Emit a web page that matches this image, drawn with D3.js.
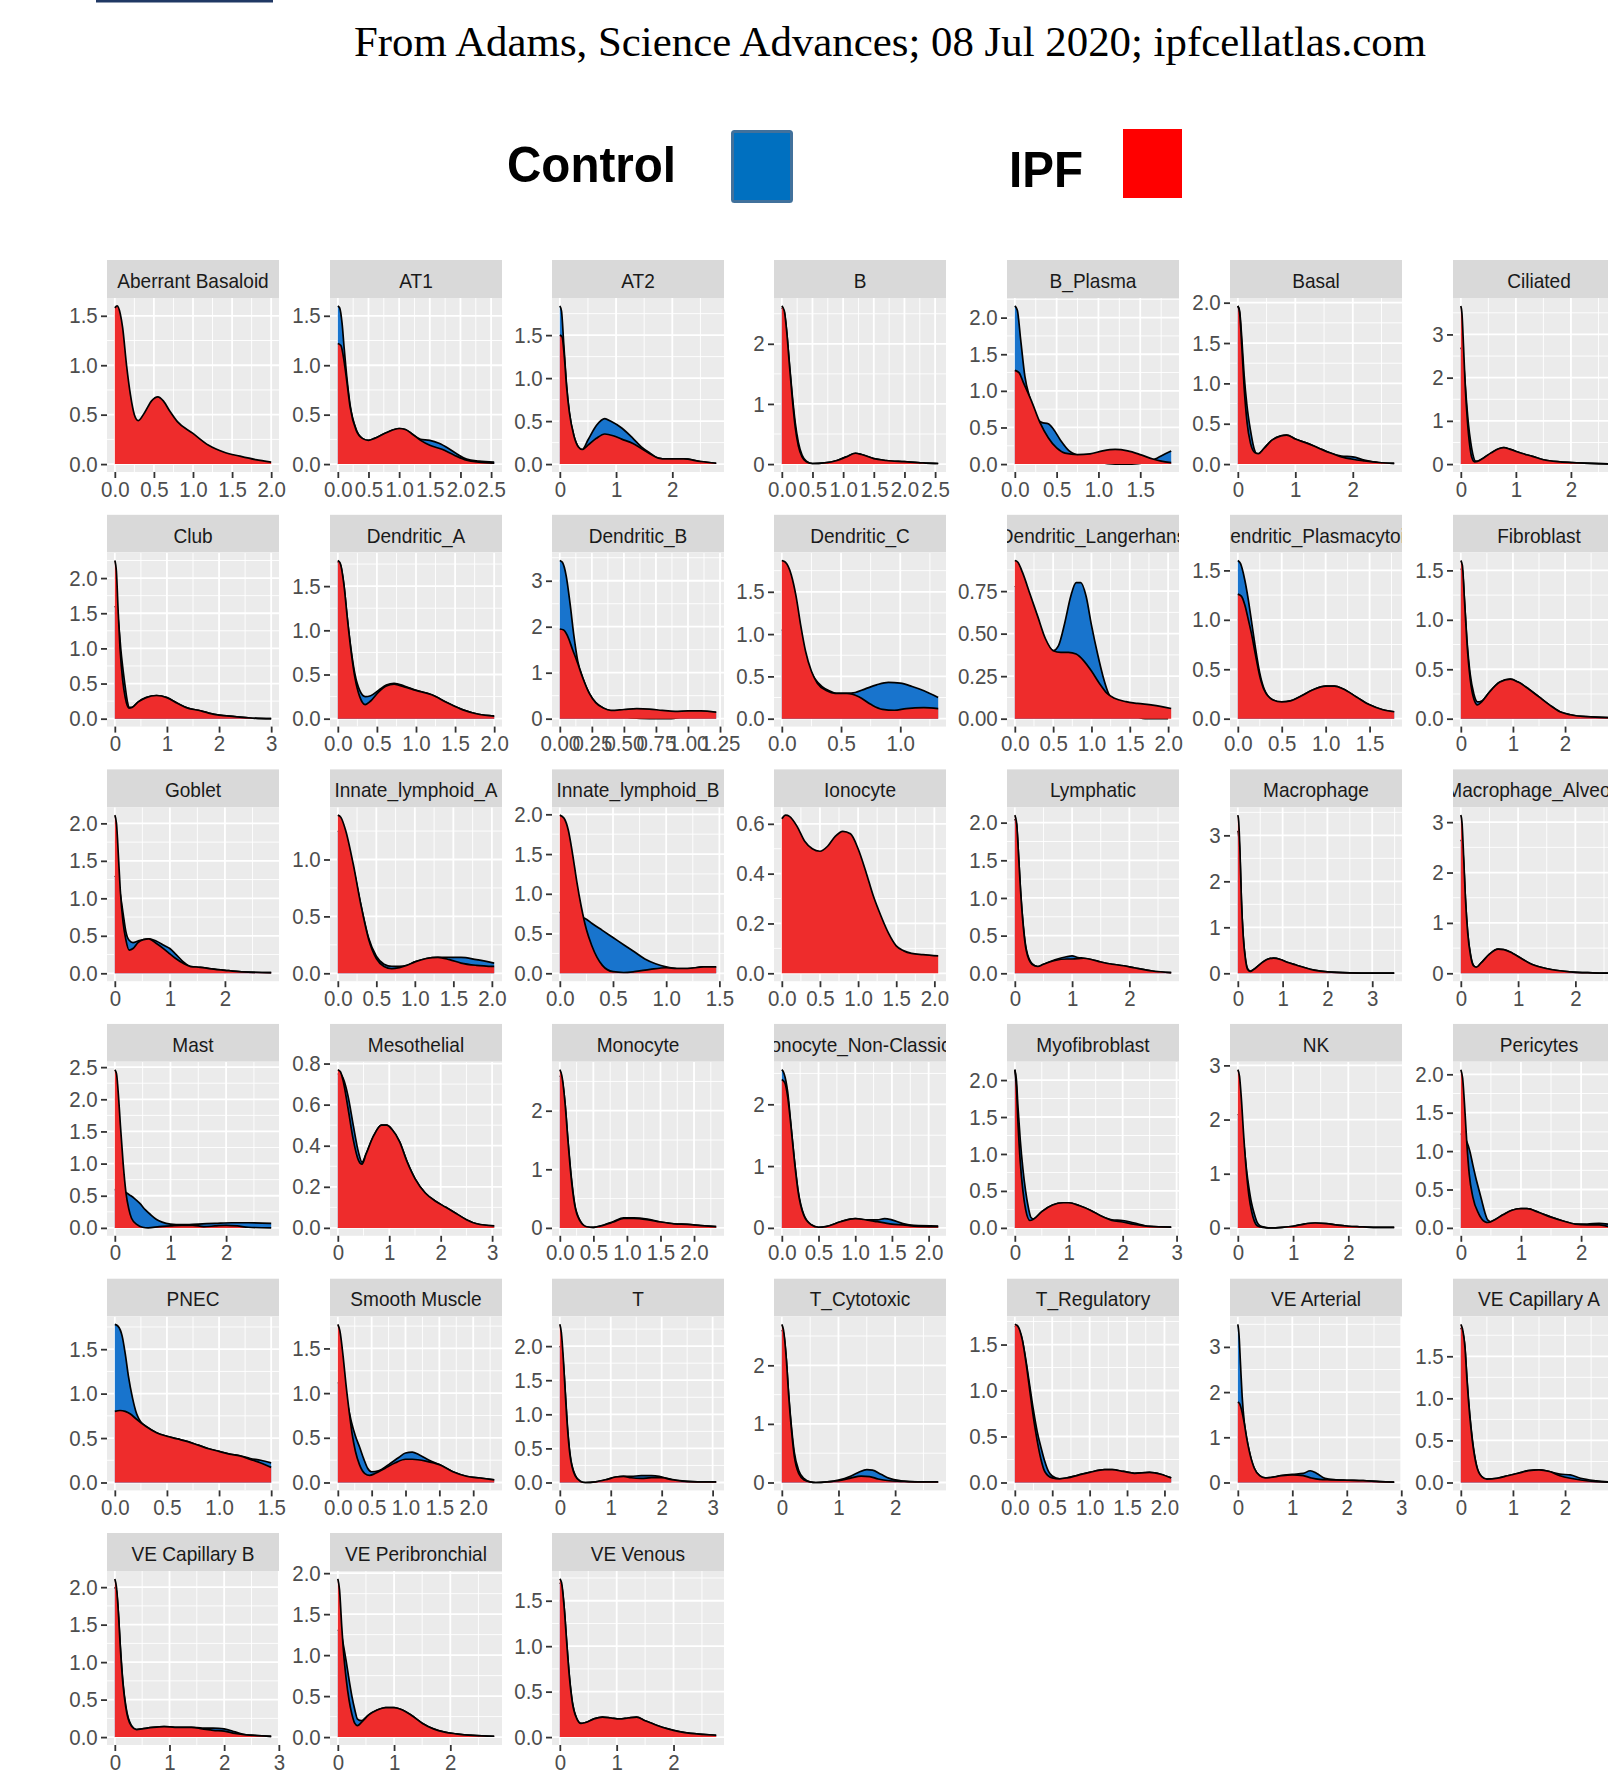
<!DOCTYPE html>
<html><head><meta charset="utf-8">
<script src="https://cdn.jsdelivr.net/npm/d3@7"></script>
<style>body{margin:0;background:#fff}svg{display:block}</style>
</head><body>
<svg id="chart" width="1608" height="1770"></svg>
<script>
const title = "From Adams, Science Advances; 08 Jul 2020; ipfcellatlas.com";
const groups = ["Control", "IPF"];
const groupColors = ["#1874CD", "#EE2C2C"];
const legendColors = ["#0070C0", "#FF0000"];

const cellTypes = ["Aberrant Basaloid","AT1","AT2","B","B_Plasma","Basal","Ciliated",
 "Club","Dendritic_A","Dendritic_B","Dendritic_C","Dendritic_Langerhans","Dendritic_Plasmacytoid","Fibroblast",
 "Goblet","Innate_lymphoid_A","Innate_lymphoid_B","Ionocyte","Lymphatic","Macrophage","Macrophage_Alveolar",
 "Mast","Mesothelial","Monocyte","Monocyte_Non-Classical","Myofibroblast","NK","Pericytes",
 "PNEC","Smooth Muscle","T","T_Cytotoxic","T_Regulatory","VE Arterial","VE Capillary A",
 "VE Capillary B","VE Peribronchial","VE Venous"];

const xTickValues = [
 [0,0.5,1,1.5,2],[0,0.5,1,1.5,2,2.5],[0,1,2],[0,0.5,1,1.5,2,2.5],[0,0.5,1,1.5],[0,1,2],[0,1,2],
 [0,1,2,3],[0,0.5,1,1.5,2],[0,0.25,0.5,0.75,1,1.25],[0,0.5,1],[0,0.5,1,1.5,2],[0,0.5,1,1.5],[0,1,2,3],
 [0,1,2],[0,0.5,1,1.5,2],[0,0.5,1,1.5],[0,0.5,1,1.5,2],[0,1,2],[0,1,2,3],[0,1,2],
 [0,1,2],[0,1,2,3],[0,0.5,1,1.5,2],[0,0.5,1,1.5,2],[0,1,2,3],[0,1,2],[0,1,2],
 [0,0.5,1,1.5],[0,0.5,1,1.5,2],[0,1,2,3],[0,1,2],[0,0.5,1,1.5,2],[0,1,2,3],[0,1,2,3],
 [0,1,2,3],[0,1,2],[0,1,2]];

const yTickValues = [
 [0,0.5,1,1.5],[0,0.5,1,1.5],[0,0.5,1,1.5],[0,1,2],[0,0.5,1,1.5,2],[0,0.5,1,1.5,2],[0,1,2,3],
 [0,0.5,1,1.5,2],[0,0.5,1,1.5],[0,1,2,3],[0,0.5,1,1.5],[0,0.25,0.5,0.75],[0,0.5,1,1.5],[0,0.5,1,1.5],
 [0,0.5,1,1.5,2],[0,0.5,1],[0,0.5,1,1.5,2],[0,0.2,0.4,0.6],[0,0.5,1,1.5,2],[0,1,2,3],[0,1,2,3],
 [0,0.5,1,1.5,2,2.5],[0,0.2,0.4,0.6,0.8],[0,1,2],[0,1,2],[0,0.5,1,1.5,2],[0,1,2,3],[0,0.5,1,1.5,2],
 [0,0.5,1,1.5],[0,0.5,1,1.5],[0,0.5,1,1.5,2],[0,1,2],[0,0.5,1,1.5],[0,1,2,3],[0,0.5,1,1.5],
 [0,0.5,1,1.5,2],[0,0.5,1,1.5,2],[0,0.5,1,1.5]];

// density curves: [expression, density]
const ipfCurves = [
 [[0,1.58],[0.03,1.6],[0.07,1.52],[0.1,1.38],[0.15,1.0],[0.2,0.7],[0.25,0.5],[0.3,0.44],[0.38,0.52],[0.47,0.64],[0.55,0.68],[0.62,0.64],[0.7,0.54],[0.8,0.43],[1.0,0.31],[1.2,0.19],[1.4,0.12],[1.6,0.08],[1.8,0.045],[2.0,0.02]],
 [[0,1.22],[0.05,1.2],[0.1,1.05],[0.15,0.82],[0.2,0.58],[0.3,0.34],[0.4,0.26],[0.5,0.24],[0.6,0.26],[0.8,0.32],[1.0,0.36],[1.1,0.35],[1.2,0.31],[1.35,0.24],[1.5,0.19],[1.7,0.15],[1.9,0.09],[2.1,0.04],[2.3,0.02],[2.55,0.01]],
 [[0,1.5],[0.04,1.48],[0.08,1.25],[0.12,0.9],[0.17,0.6],[0.25,0.33],[0.33,0.2],[0.4,0.17],[0.5,0.22],[0.65,0.3],[0.8,0.35],[0.95,0.33],[1.1,0.29],[1.3,0.24],[1.45,0.18],[1.6,0.12],[1.75,0.07],[1.9,0.06],[2.2,0.06],[2.5,0.03],[2.78,0.01]],
 [[0,2.63],[0.04,2.55],[0.08,2.2],[0.12,1.7],[0.17,1.1],[0.22,0.6],[0.27,0.3],[0.33,0.12],[0.4,0.04],[0.5,0.01],[0.7,0.02],[0.9,0.06],[1.05,0.12],[1.2,0.18],[1.3,0.16],[1.5,0.09],[1.7,0.06],[2.0,0.04],[2.3,0.02],[2.55,0.01]],
 [[0,1.28],[0.05,1.25],[0.1,1.12],[0.2,0.86],[0.3,0.57],[0.4,0.36],[0.5,0.22],[0.6,0.15],[0.75,0.13],[0.9,0.14],[1.05,0.18],[1.2,0.2],[1.35,0.18],[1.5,0.13],[1.65,0.07],[1.75,0.04],[1.87,0.02]],
 [[0,1.96],[0.03,1.88],[0.07,1.45],[0.11,0.95],[0.16,0.52],[0.22,0.26],[0.3,0.14],[0.36,0.13],[0.45,0.19],[0.6,0.3],[0.75,0.35],[0.85,0.36],[1.0,0.31],[1.2,0.26],[1.4,0.2],[1.6,0.14],[1.8,0.09],[2.0,0.06],[2.2,0.04],[2.45,0.02],[2.72,0.01]],
 [[0,3.66],[0.02,3.5],[0.05,2.7],[0.08,1.8],[0.12,1.0],[0.16,0.45],[0.2,0.15],[0.25,0.05],[0.3,0.06],[0.4,0.13],[0.55,0.26],[0.7,0.36],[0.78,0.38],[0.9,0.34],[1.1,0.25],[1.3,0.18],[1.5,0.1],[1.8,0.05],[2.1,0.03],[2.5,0.01],[2.84,0.0]],
 [[0,2.25],[0.03,2.1],[0.06,1.6],[0.1,1.0],[0.15,0.55],[0.2,0.3],[0.27,0.15],[0.33,0.16],[0.45,0.24],[0.6,0.3],[0.8,0.33],[1.0,0.3],[1.2,0.22],[1.4,0.15],[1.6,0.12],[1.8,0.08],[2.0,0.05],[2.3,0.03],[2.6,0.01],[3.0,0.0]],
 [[0,1.79],[0.03,1.76],[0.08,1.5],[0.12,1.15],[0.17,0.76],[0.22,0.46],[0.28,0.25],[0.35,0.16],[0.42,0.2],[0.52,0.3],[0.62,0.37],[0.72,0.39],[0.85,0.36],[1.0,0.32],[1.2,0.27],[1.4,0.18],[1.6,0.1],[1.8,0.05],[2.0,0.03]],
 [[0,1.95],[0.03,1.93],[0.06,1.8],[0.1,1.5],[0.14,1.2],[0.18,0.88],[0.23,0.55],[0.28,0.35],[0.34,0.23],[0.4,0.18],[0.5,0.2],[0.6,0.22],[0.7,0.21],[0.8,0.18],[0.9,0.16],[1.0,0.17],[1.1,0.17],[1.22,0.14]],
 [[0,1.87],[0.03,1.85],[0.08,1.7],[0.12,1.45],[0.16,1.1],[0.2,0.8],[0.25,0.56],[0.3,0.42],[0.38,0.33],[0.45,0.3],[0.55,0.3],[0.65,0.26],[0.75,0.17],[0.85,0.11],[0.95,0.1],[1.05,0.12],[1.2,0.13],[1.32,0.12]],
 [[0,0.93],[0.04,0.92],[0.1,0.86],[0.2,0.73],[0.3,0.6],[0.4,0.47],[0.5,0.4],[0.6,0.39],[0.7,0.39],[0.8,0.38],[0.9,0.34],[1.0,0.28],[1.1,0.21],[1.2,0.15],[1.3,0.12],[1.45,0.1],[1.6,0.09],[1.8,0.08],[2.04,0.06]],
 [[0,1.26],[0.04,1.24],[0.08,1.15],[0.12,1.0],[0.16,0.84],[0.2,0.65],[0.25,0.43],[0.3,0.29],[0.4,0.19],[0.5,0.17],[0.6,0.18],[0.7,0.22],[0.85,0.29],[1.0,0.33],[1.1,0.33],[1.2,0.3],[1.35,0.22],[1.5,0.14],[1.65,0.09],[1.78,0.07]],
 [[0,1.6],[0.03,1.55],[0.07,1.2],[0.12,0.75],[0.18,0.4],[0.25,0.2],[0.32,0.14],[0.4,0.17],[0.55,0.27],[0.75,0.37],[0.95,0.4],[1.1,0.37],[1.3,0.3],[1.5,0.22],[1.7,0.14],[1.9,0.07],[2.1,0.04],[2.4,0.02],[3.0,0.01]],
 [[0,2.11],[0.03,2.0],[0.07,1.5],[0.1,1.1],[0.15,0.68],[0.2,0.45],[0.26,0.31],[0.33,0.33],[0.42,0.41],[0.52,0.45],[0.62,0.46],[0.75,0.4],[0.9,0.32],[1.0,0.26],[1.1,0.2],[1.25,0.13],[1.38,0.09],[1.55,0.08],[1.75,0.06],[2.0,0.04],[2.3,0.02],[2.84,0.01]],
 [[0,1.39],[0.04,1.37],[0.1,1.26],[0.2,0.96],[0.3,0.6],[0.4,0.3],[0.5,0.13],[0.6,0.06],[0.7,0.04],[0.8,0.05],[0.9,0.07],[1.0,0.1],[1.15,0.13],[1.3,0.14],[1.45,0.12],[1.6,0.09],[1.8,0.07],[2.03,0.06]],
 [[0,1.99],[0.04,1.95],[0.08,1.8],[0.12,1.5],[0.16,1.15],[0.2,0.85],[0.25,0.55],[0.3,0.35],[0.35,0.2],[0.4,0.1],[0.5,0.02],[0.6,0.01],[0.7,0.02],[0.85,0.05],[1.0,0.07],[1.1,0.06],[1.2,0.06],[1.35,0.08],[1.47,0.08]],
 [[0,0.62],[0.05,0.635],[0.1,0.63],[0.2,0.59],[0.3,0.53],[0.4,0.5],[0.5,0.49],[0.6,0.51],[0.7,0.55],[0.8,0.57],[0.9,0.56],[1.0,0.5],[1.1,0.41],[1.2,0.31],[1.3,0.23],[1.4,0.16],[1.5,0.11],[1.6,0.09],[1.7,0.08],[1.85,0.075],[2.05,0.07]],
 [[0,2.1],[0.03,2.0],[0.07,1.5],[0.1,1.1],[0.15,0.6],[0.2,0.3],[0.3,0.12],[0.4,0.09],[0.5,0.12],[0.7,0.17],[0.9,0.19],[1.0,0.19],[1.2,0.2],[1.35,0.18],[1.5,0.15],[1.7,0.12],[1.9,0.1],[2.1,0.07],[2.4,0.03],[2.73,0.01]],
 [[0,3.44],[0.02,3.3],[0.05,2.6],[0.08,1.6],[0.12,0.8],[0.17,0.3],[0.22,0.08],[0.28,0.04],[0.35,0.08],[0.5,0.2],[0.65,0.3],[0.8,0.33],[0.95,0.3],[1.1,0.24],[1.3,0.18],[1.5,0.12],[1.7,0.07],[2.0,0.03],[2.5,0.01],[3.0,0.005],[3.49,0.005]],
 [[0,3.14],[0.02,3.0],[0.05,2.3],[0.08,1.5],[0.12,0.8],[0.17,0.35],[0.22,0.15],[0.27,0.12],[0.35,0.2],[0.5,0.38],[0.65,0.48],[0.75,0.47],[0.9,0.4],[1.05,0.3],[1.2,0.2],[1.4,0.12],[1.6,0.07],[1.9,0.03],[2.3,0.01],[2.73,0.0]],
 [[0,2.46],[0.03,2.4],[0.07,2.0],[0.1,1.6],[0.15,1.0],[0.2,0.55],[0.25,0.3],[0.3,0.15],[0.4,0.05],[0.5,0.01],[0.6,0.0],[0.8,0.02],[1.0,0.03],[1.2,0.04],[1.4,0.04],[1.6,0.02],[1.8,0.03],[2.0,0.04],[2.2,0.03],[2.4,0.01],[2.81,0.0]],
 [[0,0.77],[0.05,0.76],[0.1,0.72],[0.2,0.58],[0.3,0.43],[0.4,0.33],[0.47,0.31],[0.55,0.36],[0.7,0.45],[0.85,0.5],[0.95,0.5],[1.05,0.48],[1.2,0.42],[1.35,0.32],[1.5,0.24],[1.7,0.17],[1.9,0.13],[2.1,0.1],[2.3,0.07],[2.5,0.04],[2.7,0.02],[3.04,0.01]],
 [[0,2.7],[0.03,2.6],[0.08,2.1],[0.12,1.5],[0.17,0.85],[0.22,0.4],[0.3,0.12],[0.4,0.02],[0.5,0.01],[0.6,0.03],[0.8,0.1],[0.95,0.16],[1.1,0.16],[1.3,0.14],[1.5,0.1],[1.7,0.07],[1.9,0.06],[2.1,0.04],[2.33,0.02]],
 [[0,2.4],[0.04,2.35],[0.08,2.12],[0.12,1.7],[0.17,1.1],[0.22,0.6],[0.3,0.2],[0.4,0.05],[0.5,0.01],[0.6,0.02],[0.8,0.1],[1.0,0.15],[1.15,0.13],[1.3,0.1],[1.4,0.08],[1.5,0.06],[1.65,0.05],[1.8,0.03],[2.13,0.02]],
 [[0,2.14],[0.03,1.9],[0.06,1.4],[0.1,0.9],[0.15,0.5],[0.2,0.25],[0.28,0.1],[0.35,0.12],[0.5,0.22],[0.7,0.31],[0.9,0.34],[1.0,0.34],[1.2,0.3],[1.4,0.24],[1.6,0.16],[1.8,0.1],[2.0,0.08],[2.2,0.05],[2.5,0.02],[2.9,0.01]],
 [[0,2.92],[0.03,2.8],[0.07,2.3],[0.1,1.8],[0.15,1.1],[0.2,0.6],[0.25,0.3],[0.3,0.12],[0.35,0.04],[0.45,0.01],[0.6,0.0],[0.8,0.01],[1.0,0.03],[1.2,0.07],[1.4,0.09],[1.6,0.08],[1.8,0.05],[2.0,0.03],[2.2,0.02],[2.5,0.01],[2.83,0.01]],
 [[0,2.06],[0.03,1.95],[0.07,1.5],[0.1,1.1],[0.14,0.7],[0.2,0.4],[0.3,0.18],[0.4,0.08],[0.45,0.07],[0.55,0.1],[0.7,0.17],[0.85,0.23],[1.0,0.25],[1.1,0.25],[1.3,0.2],[1.5,0.14],[1.7,0.09],[1.9,0.05],[2.1,0.04],[2.3,0.04],[2.45,0.02],[2.6,0.01]],
 [[0,0.8],[0.05,0.81],[0.1,0.8],[0.15,0.77],[0.2,0.72],[0.3,0.63],[0.4,0.56],[0.5,0.52],[0.6,0.49],[0.7,0.46],[0.8,0.42],[0.9,0.38],[1.0,0.35],[1.1,0.32],[1.2,0.3],[1.3,0.26],[1.4,0.22],[1.5,0.17]],
 [[0,1.77],[0.03,1.7],[0.08,1.4],[0.12,1.1],[0.17,0.78],[0.21,0.55],[0.26,0.35],[0.32,0.2],[0.4,0.1],[0.47,0.08],[0.55,0.1],[0.7,0.16],[0.85,0.22],[1.0,0.26],[1.1,0.26],[1.3,0.24],[1.5,0.2],[1.7,0.12],[1.9,0.07],[2.1,0.05],[2.31,0.03]],
 [[0,2.32],[0.03,2.2],[0.07,1.8],[0.1,1.4],[0.15,0.8],[0.2,0.4],[0.3,0.1],[0.4,0.02],[0.5,0.0],[0.7,0.01],[0.9,0.04],[1.1,0.08],[1.25,0.09],[1.4,0.07],[1.6,0.06],[1.8,0.07],[2.0,0.07],[2.2,0.04],[2.4,0.02],[2.7,0.01],[3.07,0.01]],
 [[0,2.7],[0.03,2.6],[0.08,2.1],[0.12,1.5],[0.17,0.9],[0.22,0.45],[0.3,0.15],[0.4,0.04],[0.5,0.01],[0.6,0.0],[0.8,0.01],[1.0,0.03],[1.2,0.07],[1.4,0.11],[1.55,0.1],[1.7,0.06],[1.9,0.03],[2.1,0.02],[2.4,0.01],[2.76,0.01]],
 [[0,1.72],[0.04,1.7],[0.1,1.55],[0.15,1.3],[0.2,1.0],[0.25,0.7],[0.3,0.45],[0.35,0.25],[0.4,0.12],[0.5,0.05],[0.6,0.04],[0.7,0.05],[0.85,0.08],[1.0,0.11],[1.2,0.14],[1.3,0.14],[1.45,0.12],[1.6,0.1],[1.8,0.11],[1.95,0.09],[2.09,0.05]],
 [[0,1.78],[0.03,1.75],[0.08,1.55],[0.12,1.3],[0.16,1.0],[0.2,0.75],[0.25,0.5],[0.3,0.32],[0.4,0.15],[0.5,0.1],[0.6,0.11],[0.8,0.15],[1.0,0.17],[1.2,0.15],[1.35,0.1],[1.5,0.07],[1.7,0.06],[2.0,0.05],[2.3,0.04],[2.6,0.02],[2.87,0.01]],
 [[0,1.88],[0.03,1.83],[0.08,1.6],[0.12,1.2],[0.17,0.8],[0.22,0.5],[0.3,0.2],[0.4,0.07],[0.5,0.04],[0.7,0.05],[0.9,0.08],[1.1,0.11],[1.3,0.14],[1.5,0.15],[1.7,0.13],[1.9,0.08],[2.1,0.05],[2.3,0.03],[2.6,0.01],[3.0,0.0]],
 [[0,2.11],[0.03,2.0],[0.07,1.6],[0.1,1.2],[0.15,0.7],[0.2,0.4],[0.3,0.15],[0.4,0.1],[0.5,0.11],[0.7,0.13],[0.9,0.14],[1.1,0.13],[1.4,0.13],[1.6,0.11],[1.8,0.09],[2.0,0.08],[2.2,0.05],[2.4,0.03],[2.6,0.02],[2.86,0.01]],
 [[0,1.93],[0.03,1.8],[0.07,1.35],[0.1,1.05],[0.15,0.7],[0.2,0.45],[0.25,0.28],[0.3,0.17],[0.35,0.14],[0.42,0.18],[0.55,0.27],[0.7,0.33],[0.85,0.36],[1.0,0.36],[1.15,0.33],[1.3,0.27],[1.5,0.17],[1.7,0.1],[1.9,0.06],[2.1,0.04],[2.4,0.02],[2.78,0.01]],
 [[0,1.74],[0.03,1.7],[0.08,1.4],[0.12,1.05],[0.17,0.65],[0.22,0.38],[0.3,0.2],[0.37,0.15],[0.45,0.16],[0.6,0.2],[0.75,0.22],[0.9,0.21],[1.05,0.2],[1.2,0.21],[1.35,0.22],[1.5,0.18],[1.7,0.13],[1.9,0.09],[2.1,0.06],[2.3,0.04],[2.5,0.03],[2.75,0.02]]
];

const controlCurves = [
 null,
 [[0,1.6],[0.03,1.58],[0.07,1.42],[0.1,1.2],[0.15,0.86],[0.2,0.6],[0.3,0.35],[0.4,0.26],[0.5,0.24],[0.6,0.26],[0.8,0.32],[1.0,0.36],[1.1,0.35],[1.2,0.31],[1.35,0.25],[1.5,0.24],[1.65,0.21],[1.8,0.16],[1.95,0.1],[2.1,0.05],[2.3,0.03],[2.55,0.02]],
 [[0,1.84],[0.03,1.78],[0.07,1.4],[0.12,0.92],[0.17,0.6],[0.25,0.33],[0.33,0.2],[0.4,0.17],[0.5,0.28],[0.65,0.45],[0.8,0.53],[0.9,0.5],[1.1,0.42],[1.3,0.3],[1.45,0.2],[1.6,0.13],[1.75,0.07],[1.9,0.06],[2.2,0.06],[2.5,0.03],[2.78,0.01]],
 [[0,2.6],[0.04,2.53],[0.08,2.2],[0.12,1.72],[0.17,1.15],[0.22,0.68],[0.27,0.36],[0.33,0.15],[0.4,0.05],[0.5,0.01],[0.7,0.02],[0.9,0.06],[1.05,0.12],[1.2,0.18],[1.3,0.16],[1.5,0.09],[1.7,0.06],[2.0,0.04],[2.3,0.02],[2.55,0.01]],
 [[0,2.16],[0.03,2.1],[0.07,1.7],[0.12,1.2],[0.18,0.9],[0.25,0.66],[0.32,0.57],[0.4,0.55],[0.46,0.48],[0.55,0.32],[0.65,0.18],[0.75,0.12],[0.85,0.08],[1.0,0.03],[1.2,0.0],[1.4,0.0],[1.55,0.02],[1.7,0.08],[1.8,0.14],[1.87,0.18]],
 [[0,1.96],[0.03,1.9],[0.07,1.55],[0.11,1.1],[0.16,0.72],[0.22,0.42],[0.28,0.2],[0.34,0.12],[0.4,0.15],[0.45,0.19],[0.6,0.3],[0.75,0.35],[0.85,0.36],[1.0,0.31],[1.2,0.26],[1.4,0.2],[1.6,0.14],[1.8,0.1],[2.0,0.09],[2.2,0.05],[2.45,0.02],[2.72,0.01]],
 [[0,2.7],[0.03,2.6],[0.06,2.2],[0.1,1.5],[0.14,0.9],[0.18,0.5],[0.22,0.22],[0.27,0.07],[0.32,0.07],[0.4,0.13],[0.55,0.26],[0.7,0.36],[0.78,0.38],[0.9,0.34],[1.1,0.25],[1.3,0.18],[1.5,0.1],[1.8,0.05],[2.1,0.03],[2.5,0.01],[2.84,0.0]],
 [[0,1.6],[0.04,1.55],[0.08,1.3],[0.12,0.95],[0.16,0.68],[0.2,0.45],[0.24,0.25],[0.28,0.16],[0.33,0.16],[0.45,0.24],[0.6,0.3],[0.8,0.33],[1.0,0.3],[1.2,0.22],[1.4,0.15],[1.6,0.12],[1.8,0.08],[2.0,0.05],[2.3,0.03],[2.6,0.01],[3.0,0.0]],
 [[0,1.78],[0.03,1.75],[0.08,1.5],[0.12,1.15],[0.17,0.78],[0.22,0.5],[0.28,0.32],[0.35,0.25],[0.42,0.26],[0.52,0.32],[0.62,0.38],[0.72,0.4],[0.85,0.37],[1.0,0.32],[1.2,0.27],[1.4,0.18],[1.6,0.1],[1.8,0.05],[2.0,0.03]],
 [[0,3.44],[0.02,3.4],[0.05,3.1],[0.08,2.5],[0.11,1.8],[0.14,1.25],[0.18,0.88],[0.23,0.55],[0.28,0.35],[0.34,0.23],[0.4,0.16],[0.46,0.08],[0.55,0.02],[0.7,0.0],[0.85,0.0],[0.95,0.04],[1.05,0.12],[1.12,0.15],[1.22,0.14]],
 [[0,1.05],[0.05,1.03],[0.1,0.95],[0.16,0.8],[0.22,0.62],[0.28,0.47],[0.34,0.38],[0.4,0.33],[0.46,0.3],[0.55,0.3],[0.62,0.31],[0.7,0.35],[0.8,0.4],[0.9,0.43],[1.0,0.42],[1.1,0.38],[1.2,0.33],[1.32,0.25]],
 [[0,0.78],[0.1,0.75],[0.2,0.68],[0.3,0.57],[0.4,0.46],[0.5,0.4],[0.57,0.43],[0.65,0.56],[0.73,0.72],[0.8,0.8],[0.86,0.8],[0.93,0.72],[1.0,0.55],[1.08,0.38],[1.15,0.25],[1.22,0.15],[1.35,0.07],[1.5,0.03],[1.7,0.0],[2.0,0.0]],
 [[0,1.6],[0.03,1.57],[0.08,1.4],[0.12,1.2],[0.16,0.96],[0.2,0.72],[0.25,0.46],[0.3,0.3],[0.4,0.19],[0.5,0.17],[0.6,0.18],[0.7,0.22],[0.85,0.29],[1.0,0.33],[1.1,0.33],[1.2,0.3],[1.35,0.22],[1.5,0.14],[1.65,0.09],[1.78,0.07]],
 [[0,1.52],[0.03,1.5],[0.07,1.2],[0.12,0.78],[0.18,0.45],[0.25,0.25],[0.32,0.17],[0.4,0.18],[0.55,0.27],[0.75,0.37],[0.95,0.4],[1.1,0.37],[1.3,0.3],[1.5,0.22],[1.7,0.14],[1.9,0.07],[2.1,0.04],[2.4,0.02],[3.0,0.01]],
 [[0,1.3],[0.05,1.25],[0.1,1.05],[0.15,0.8],[0.2,0.56],[0.26,0.44],[0.33,0.41],[0.42,0.43],[0.52,0.45],[0.62,0.46],[0.75,0.43],[0.9,0.37],[1.0,0.33],[1.1,0.26],[1.25,0.15],[1.38,0.09],[1.55,0.08],[1.75,0.06],[2.0,0.04],[2.3,0.02],[2.84,0.01]],
 [[0,1.25],[0.05,1.23],[0.1,1.17],[0.2,0.93],[0.3,0.6],[0.4,0.31],[0.5,0.15],[0.6,0.08],[0.7,0.06],[0.8,0.06],[0.9,0.07],[1.0,0.1],[1.15,0.13],[1.3,0.14],[1.45,0.14],[1.6,0.14],[1.8,0.12],[2.03,0.09]],
 [[0,0.77],[0.1,0.75],[0.2,0.71],[0.25,0.68],[0.3,0.63],[0.4,0.54],[0.5,0.45],[0.6,0.36],[0.7,0.27],[0.8,0.18],[0.9,0.12],[1.0,0.08],[1.1,0.06],[1.2,0.06],[1.35,0.08],[1.47,0.08]],
 null,
 [[0,2.05],[0.03,1.98],[0.07,1.5],[0.1,1.1],[0.15,0.62],[0.2,0.32],[0.3,0.13],[0.4,0.09],[0.5,0.12],[0.7,0.18],[0.9,0.22],[1.0,0.23],[1.1,0.21],[1.2,0.2],[1.35,0.18],[1.5,0.15],[1.7,0.12],[1.9,0.1],[2.1,0.07],[2.4,0.03],[2.73,0.01]],
 [[0,3.1],[0.02,3.0],[0.05,2.5],[0.08,1.6],[0.12,0.82],[0.17,0.32],[0.22,0.1],[0.28,0.05],[0.35,0.08],[0.5,0.2],[0.65,0.3],[0.8,0.33],[0.95,0.3],[1.1,0.24],[1.3,0.18],[1.5,0.12],[1.7,0.07],[2.0,0.03],[2.5,0.01],[3.0,0.005],[3.49,0.005]],
 [[0,2.65],[0.02,2.6],[0.05,2.2],[0.08,1.5],[0.12,0.82],[0.17,0.37],[0.22,0.16],[0.27,0.12],[0.35,0.2],[0.5,0.38],[0.65,0.48],[0.75,0.47],[0.9,0.4],[1.05,0.3],[1.2,0.2],[1.4,0.12],[1.6,0.07],[1.9,0.03],[2.3,0.01],[2.73,0.0]],
 [[0,0.6],[0.1,0.58],[0.2,0.55],[0.27,0.51],[0.35,0.46],[0.45,0.38],[0.55,0.28],[0.65,0.2],[0.75,0.13],[0.85,0.09],[1.0,0.06],[1.2,0.05],[1.5,0.06],[1.8,0.07],[2.1,0.08],[2.4,0.08],[2.81,0.07]],
 [[0,0.75],[0.05,0.75],[0.1,0.73],[0.2,0.64],[0.3,0.5],[0.4,0.37],[0.47,0.32],[0.55,0.36],[0.7,0.45],[0.85,0.5],[0.95,0.5],[1.05,0.48],[1.2,0.42],[1.35,0.32],[1.5,0.24],[1.7,0.17],[1.9,0.13],[2.1,0.1],[2.3,0.07],[2.5,0.04],[2.7,0.02],[3.04,0.01]],
 [[0,2.6],[0.03,2.55],[0.08,2.1],[0.12,1.52],[0.17,0.88],[0.22,0.42],[0.3,0.13],[0.4,0.02],[0.5,0.01],[0.6,0.03],[0.8,0.11],[0.95,0.17],[1.1,0.17],[1.3,0.15],[1.5,0.1],[1.7,0.07],[1.9,0.06],[2.1,0.04],[2.33,0.02]],
 [[0,2.56],[0.03,2.5],[0.08,2.2],[0.12,1.72],[0.17,1.12],[0.22,0.62],[0.3,0.21],[0.4,0.05],[0.5,0.01],[0.6,0.02],[0.8,0.1],[1.0,0.15],[1.15,0.13],[1.3,0.13],[1.4,0.15],[1.5,0.13],[1.65,0.07],[1.8,0.04],[2.13,0.03]],
 [[0,2.14],[0.03,2.0],[0.06,1.62],[0.1,1.2],[0.15,0.8],[0.2,0.5],[0.25,0.28],[0.3,0.14],[0.35,0.12],[0.5,0.22],[0.7,0.31],[0.9,0.34],[1.0,0.34],[1.2,0.3],[1.4,0.24],[1.6,0.16],[1.8,0.11],[2.0,0.1],[2.2,0.07],[2.5,0.02],[2.9,0.01]],
 [[0,2.1],[0.04,2.05],[0.08,1.8],[0.12,1.45],[0.16,1.05],[0.2,0.75],[0.25,0.45],[0.3,0.25],[0.35,0.1],[0.4,0.04],[0.5,0.01],[0.6,0.0],[0.8,0.01],[1.0,0.03],[1.2,0.07],[1.4,0.09],[1.6,0.08],[1.8,0.05],[2.0,0.03],[2.2,0.02],[2.5,0.01],[2.83,0.01]],
 [[0,1.23],[0.05,1.2],[0.1,1.12],[0.15,1.0],[0.2,0.82],[0.25,0.65],[0.3,0.5],[0.35,0.35],[0.4,0.2],[0.45,0.1],[0.5,0.08],[0.55,0.1],[0.7,0.17],[0.85,0.23],[1.0,0.25],[1.1,0.25],[1.3,0.2],[1.5,0.14],[1.7,0.09],[1.9,0.05],[2.1,0.05],[2.3,0.06],[2.45,0.05],[2.6,0.03]],
 [[0,1.78],[0.03,1.76],[0.07,1.65],[0.1,1.45],[0.13,1.2],[0.17,0.95],[0.21,0.77],[0.25,0.68],[0.3,0.63],[0.4,0.56],[0.5,0.52],[0.6,0.49],[0.7,0.46],[0.8,0.42],[0.9,0.38],[1.0,0.35],[1.1,0.32],[1.2,0.3],[1.3,0.27],[1.4,0.25],[1.5,0.22]],
 [[0,1.12],[0.05,1.1],[0.1,1.0],[0.15,0.85],[0.2,0.68],[0.26,0.52],[0.32,0.4],[0.38,0.27],[0.44,0.16],[0.5,0.12],[0.6,0.13],[0.75,0.2],[0.9,0.28],[1.0,0.33],[1.1,0.34],[1.2,0.31],[1.35,0.25],[1.5,0.2],[1.7,0.12],[1.9,0.07],[2.1,0.05],[2.31,0.03]],
 [[0,2.0],[0.04,1.95],[0.08,1.65],[0.11,1.3],[0.15,0.82],[0.2,0.42],[0.3,0.11],[0.4,0.02],[0.5,0.0],[0.7,0.01],[0.9,0.04],[1.1,0.08],[1.25,0.09],[1.4,0.09],[1.6,0.1],[1.8,0.1],[1.95,0.09],[2.1,0.06],[2.3,0.03],[2.7,0.01],[3.07,0.01]],
 [[0,2.6],[0.03,2.55],[0.08,2.1],[0.12,1.52],[0.17,0.95],[0.22,0.52],[0.3,0.2],[0.4,0.06],[0.5,0.01],[0.6,0.0],[0.8,0.01],[1.0,0.04],[1.2,0.1],[1.35,0.17],[1.5,0.22],[1.6,0.21],[1.75,0.14],[1.9,0.07],[2.1,0.03],[2.4,0.01],[2.76,0.01]],
 [[0,1.7],[0.04,1.68],[0.1,1.55],[0.15,1.32],[0.2,1.05],[0.25,0.78],[0.3,0.55],[0.35,0.38],[0.4,0.23],[0.45,0.12],[0.5,0.07],[0.6,0.04],[0.7,0.05],[0.85,0.08],[1.0,0.11],[1.2,0.14],[1.3,0.14],[1.45,0.12],[1.6,0.1],[1.8,0.11],[1.95,0.09],[2.09,0.05]],
 [[0,3.5],[0.02,3.3],[0.05,2.6],[0.08,1.9],[0.12,1.32],[0.16,1.0],[0.2,0.75],[0.25,0.5],[0.3,0.32],[0.4,0.15],[0.5,0.1],[0.6,0.11],[0.8,0.15],[1.0,0.18],[1.2,0.2],[1.33,0.26],[1.45,0.2],[1.6,0.09],[1.8,0.06],[2.0,0.05],[2.3,0.04],[2.6,0.02],[2.87,0.01]],
 [[0,1.84],[0.03,1.8],[0.08,1.6],[0.12,1.22],[0.17,0.82],[0.22,0.52],[0.3,0.21],[0.4,0.07],[0.5,0.04],[0.7,0.05],[0.9,0.08],[1.1,0.11],[1.3,0.14],[1.5,0.15],[1.7,0.13],[1.9,0.1],[2.1,0.09],[2.3,0.05],[2.6,0.02],[3.0,0.0]],
 [[0,2.0],[0.03,1.95],[0.07,1.6],[0.1,1.22],[0.15,0.72],[0.2,0.42],[0.3,0.16],[0.4,0.1],[0.5,0.11],[0.7,0.13],[0.9,0.14],[1.1,0.13],[1.4,0.13],[1.6,0.12],[1.8,0.12],[2.0,0.11],[2.2,0.07],[2.4,0.03],[2.6,0.02],[2.86,0.01]],
 [[0,1.31],[0.05,1.28],[0.1,1.12],[0.15,0.92],[0.2,0.7],[0.25,0.5],[0.3,0.34],[0.35,0.22],[0.42,0.2],[0.5,0.24],[0.55,0.27],[0.7,0.33],[0.85,0.36],[1.0,0.36],[1.15,0.33],[1.3,0.27],[1.5,0.17],[1.7,0.1],[1.9,0.06],[2.1,0.04],[2.4,0.02],[2.78,0.01]],
 [[0,1.7],[0.03,1.67],[0.08,1.4],[0.12,1.05],[0.17,0.66],[0.22,0.39],[0.3,0.2],[0.37,0.15],[0.45,0.16],[0.6,0.2],[0.75,0.22],[0.9,0.21],[1.05,0.2],[1.2,0.21],[1.35,0.22],[1.5,0.18],[1.7,0.13],[1.9,0.09],[2.1,0.06],[2.3,0.04],[2.5,0.03],[2.75,0.02]]
];

// ---------- layout ----------
const svg = d3.select("#chart");
const PW = 172, STRIP_H = 38, PH = 174, ROW0 = 260, ROW_STEP = 254.6, NCOL = 7;
const colLeft = [107, 330, 552, 774, 1007, 1230, 1453];
const SANS = "'Liberation Sans', Arial, Helvetica, sans-serif";
const defs = svg.append("defs");

svg.append("rect").attr("x", 96).attr("y", 0).attr("width", 177).attr("height", 2.5).attr("fill", "#203864");

svg.append("text").attr("x", 890).attr("y", 56).attr("text-anchor", "middle")
  .attr("font-family", "'Liberation Serif','Times New Roman',serif").attr("font-size", 42)
  .attr("textLength", 1072).attr("lengthAdjust", "spacingAndGlyphs").attr("fill", "#000").text(title);

const legendSpec = [
  {label: groups[0], tx: 507, ty: 182, tl: 169, rx: 732.5, ry: 131.5, rw: 59, rh: 70, stroke: "#41719C"},
  {label: groups[1], tx: 1009, ty: 187, tl: 74, rx: 1123, ry: 129, rw: 59, rh: 69, stroke: null}
];
legendSpec.forEach((s, k) => {
  svg.append("text").attr("x", s.tx).attr("y", s.ty).attr("font-family", SANS).attr("font-weight", "bold")
    .attr("font-size", 50).attr("textLength", s.tl).attr("lengthAdjust", "spacingAndGlyphs").attr("fill", "#000").text(s.label);
  const r = svg.append("rect").attr("x", s.rx).attr("y", s.ry).attr("width", s.rw).attr("height", s.rh)
    .attr("fill", legendColors[k]);
  if (s.stroke) r.attr("stroke", s.stroke).attr("stroke-width", 3).attr("rx", 2);
});

function decimalsOf(ticks) {
  return d3.max(ticks, t => { const s = String(t); const i = s.indexOf("."); return i < 0 ? 0 : s.length - i - 1; });
}
function minorBreaks(ticks, domain) {
  const step = ticks[1] - ticks[0];
  const b = [ticks[0] - step, ...ticks, ticks[ticks.length - 1] + step];
  const out = [];
  for (let k = 0; k < b.length - 1; k++) {
    const m = (b[k] + b[k + 1]) / 2;
    if (m >= domain[0] && m <= domain[1]) out.push(m);
  }
  return out;
}

cellTypes.forEach((name, i) => {
  const col = i % NCOL, row = Math.floor(i / NCOL);
  const px = colLeft[col], st = ROW0 + row * ROW_STEP, py = st + STRIP_H;
  const curves = [controlCurves[i], ipfCurves[i]];
  const allPts = curves.filter(Boolean).flat();
  const xmax = d3.max(allPts, d => d[0]), ymax = d3.max(allPts, d => d[1]);
  const x = d3.scaleLinear().domain([-0.05 * xmax, 1.05 * xmax]).range([px, px + PW]);
  const y = d3.scaleLinear().domain([-0.05 * ymax, 1.05 * ymax]).range([py + PH, py]);
  const xt = xTickValues[i].filter(t => t >= x.domain()[0] && t <= x.domain()[1]);
  const yt = yTickValues[i].filter(t => t >= y.domain()[0] && t <= y.domain()[1]);

  const g = svg.append("g");
  const clipId = "clip" + i;
  defs.append("clipPath").attr("id", clipId).append("rect").attr("x", px).attr("y", py).attr("width", PW).attr("height", PH);
  const stripClip = "sclip" + i;
  defs.append("clipPath").attr("id", stripClip).append("rect").attr("x", px).attr("y", st).attr("width", PW).attr("height", STRIP_H);

  g.append("rect").attr("x", px).attr("y", py).attr("width", PW).attr("height", PH).attr("fill", "#EBEBEB");
  const grid = g.append("g").attr("clip-path", `url(#${clipId})`);
  minorBreaks(xt, x.domain()).forEach(v => grid.append("line").attr("x1", x(v)).attr("x2", x(v)).attr("y1", py).attr("y2", py + PH).attr("stroke", "#fff").attr("stroke-width", 0.9));
  minorBreaks(yt, y.domain()).forEach(v => grid.append("line").attr("y1", y(v)).attr("y2", y(v)).attr("x1", px).attr("x2", px + PW).attr("stroke", "#fff").attr("stroke-width", 0.9));
  xt.forEach(v => grid.append("line").attr("x1", x(v)).attr("x2", x(v)).attr("y1", py).attr("y2", py + PH).attr("stroke", "#fff").attr("stroke-width", 1.8));
  yt.forEach(v => grid.append("line").attr("y1", y(v)).attr("y2", y(v)).attr("x1", px).attr("x2", px + PW).attr("stroke", "#fff").attr("stroke-width", 1.8));

  const area = d3.area().x(d => x(d[0])).y0(y(0)).y1(d => y(d[1])).curve(d3.curveMonotoneX);
  const line = d3.line().x(d => x(d[0])).y(d => y(d[1])).curve(d3.curveMonotoneX);
  curves.forEach((c, k) => {
    if (!c) return;
    grid.append("path").attr("d", area(c)).attr("fill", groupColors[k]);
    grid.append("path").attr("d", line(c)).attr("fill", "none").attr("stroke", "#000").attr("stroke-width", 1.7).attr("stroke-linejoin", "round");
  });

  const xAxis = d3.axisBottom(x).tickValues(xt).tickFormat(d3.format(`.${decimalsOf(xt)}f`)).tickSize(6).tickPadding(3);
  const yAxis = d3.axisLeft(y).tickValues(yt).tickFormat(d3.format(`.${decimalsOf(yt)}f`)).tickSize(6).tickPadding(4);
  const gx = g.append("g").attr("transform", `translate(0,${py + PH})`).call(xAxis);
  const gy = g.append("g").attr("transform", `translate(${px},0)`).call(yAxis);
  [gx, gy].forEach(ax => {
    ax.select(".domain").remove();
    ax.selectAll(".tick line").attr("stroke", "#333333").attr("stroke-width", 1.8);
    ax.selectAll(".tick text").attr("fill", "#4D4D4D").attr("font-family", SANS).attr("font-size", 22)
      .attr("transform", "scale(0.93,1)");
  });

  const sg = g.append("g").attr("clip-path", `url(#${stripClip})`);
  sg.append("rect").attr("x", px).attr("y", st).attr("width", PW).attr("height", STRIP_H).attr("fill", "#D9D9D9");
  sg.append("text").attr("transform", `translate(${px + PW / 2},${st + 28}) scale(0.93,1)`)
    .attr("text-anchor", "middle").attr("font-family", SANS).attr("font-size", 20.5).attr("fill", "#1A1A1A").text(name);
});
</script>
</body></html>
